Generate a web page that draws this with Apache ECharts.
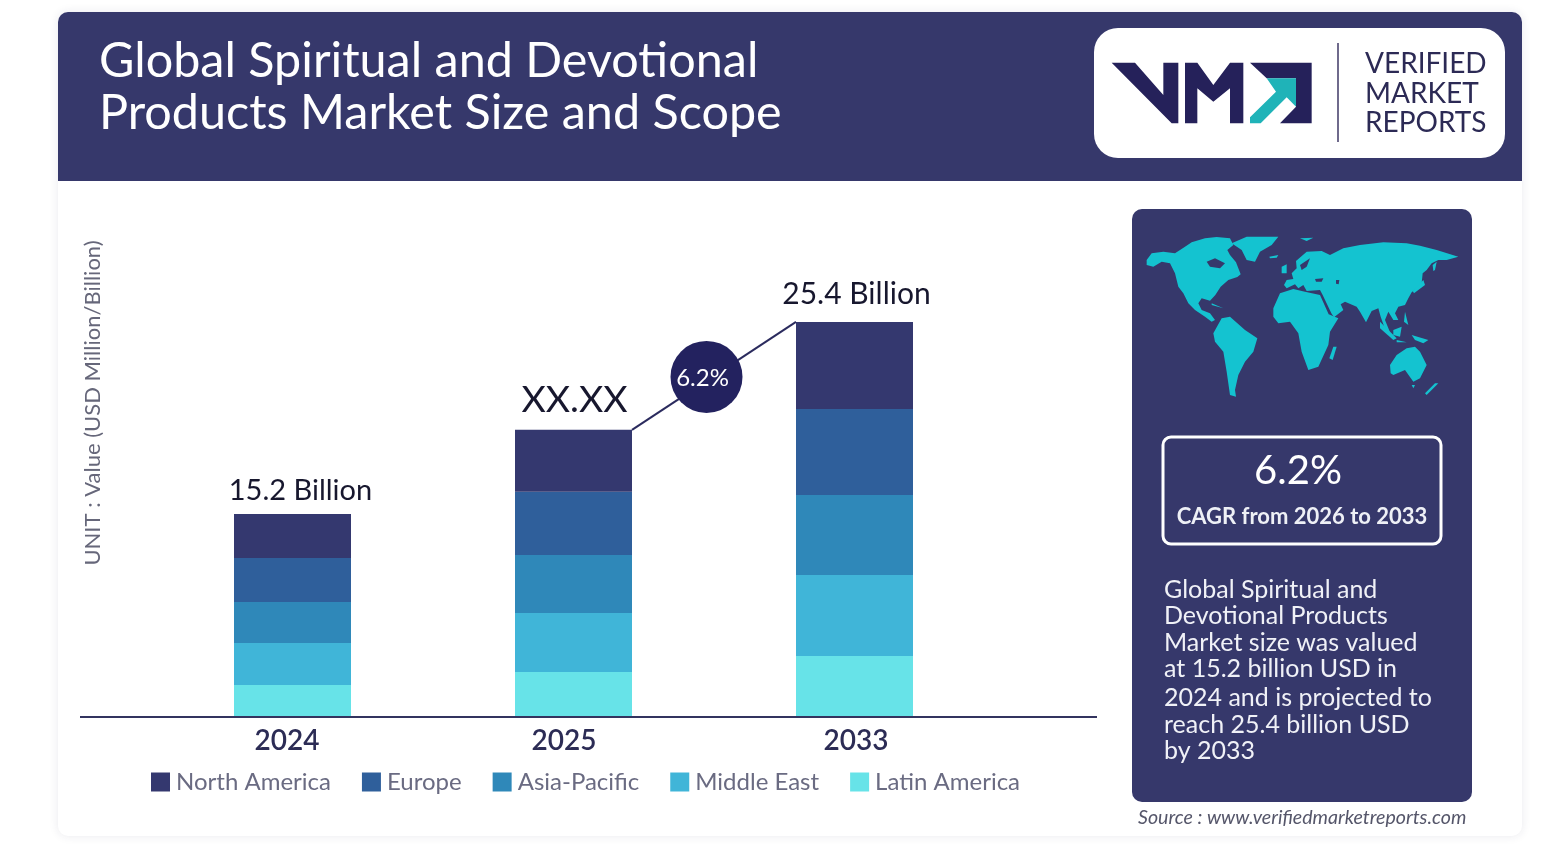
<!DOCTYPE html>
<html><head><meta charset="utf-8">
<style>html,body{margin:0;padding:0;background:#fff}#c{width:1549px;height:845px}</style>
<script src="https://cdn.jsdelivr.net/npm/echarts@6/dist/echarts.min.js"></script>
</head><body><div id="c"></div>
<script>
// Data. The reference bars are not drawn to scale with their captions,
// so segment sizes are the drawn proportions, with 2024 normalised to its 15.2 caption.
const categories = ['2024', '2025', '2033'];
const latinAmerica = [2.40, 3.37, 4.57];
const middleEast   = [3.14, 4.42, 6.06];
const asiaPacific  = [3.07, 4.34, 5.99];
const europe       = [3.29, 4.72, 6.44];
const northAmerica = [3.29, 4.64, 6.51];
const totalLabels = ['15.2 Billion', 'XX.XX', '25.4 Billion'];
const cagrLabel = '6.2%';
const legendOrder = ['North America', 'Europe', 'Asia-Pacific', 'Middle East', 'Latin America'];
const paragraph = ['Global Spiritual and', 'Devotional Products', 'Market size was valued', 'at 15.2 billion USD in', '2024 and is projected to', 'reach 25.4 billion USD', 'by 2033'];

const FONT = 'Lato, "Open Sans", sans-serif';
const NAVY = '#36386b', TEAL = '#14c3d0', BARW = 117;
const colors = {'North America':'#34386f','Europe':'#2f5f9b','Asia-Pacific':'#2f88b9','Middle East':'#40b5d8','Latin America':'#67e3e8'};
const totals = categories.map((_, i) => latinAmerica[i] + middleEast[i] + asiaPacific[i] + europe[i] + northAmerica[i]);

// artwork traced in 3x crop coordinates
const mapLand = [
 [[50,165],[65,145],[100,140],[135,145],[165,125],[185,112],[225,100],[260,96],[300,100],[310,120],[292,135],[300,150],[318,172],[332,208],[322,216],[295,225],[272,245],[256,270],[240,287],[215,280],[205,295],[215,315],[240,325],[255,345],[245,350],[225,335],[195,315],[175,295],[160,265],[145,245],[135,205],[120,175],[95,170],[70,185],[50,180]],
 [[305,115],[350,95],[445,95],[425,120],[390,140],[375,170],[350,165],[335,135]],
 [[250,385],[275,340],[300,335],[345,375],[382,400],[370,440],[345,470],[325,510],[315,555],[318,575],[300,570],[290,500],[280,440],[255,410]],
 [[430,310],[450,265],[490,252],[525,260],[570,270],[596,328],[625,340],[600,380],[595,420],[565,485],[535,495],[515,440],[505,385],[480,350],[445,355],[430,335]],
 [[610,425],[620,425],[608,465],[598,460]],
 [[462,240],[470,225],[490,222],[485,205],[500,190],[498,168],[530,140],[575,138],[600,150],[640,130],[690,120],[760,112],[830,115],[870,122],[920,135],[985,155],[950,165],[925,165],[905,175],[890,195],[878,205],[875,235],[860,250],[845,262],[835,280],[825,300],[805,305],[795,325],[805,345],[790,345],[775,320],[765,345],[780,382],[765,372],[752,335],[745,310],[725,318],[708,352],[690,320],[680,305],[645,290],[632,298],[640,315],[612,337],[604,325],[578,270],[570,255],[530,258],[520,240],[505,250],[495,238],[470,250]],
 [[455,185],[470,178],[470,205],[455,205]],
 [[418,155],[445,150],[440,158],[420,160]],
 [[750,350],[800,400],[790,405],[750,370]],
 [[790,375],[815,365],[810,395],[790,390]],
 [[800,405],[830,412],[800,412]],
 [[845,390],[895,405],[880,415],[855,405]],
 [[825,320],[835,360],[822,350]],
 [[880,225],[885,240],[852,265],[848,258]],
 [[780,480],[800,450],[830,430],[855,425],[870,440],[890,480],[870,520],[850,530],[825,495],[790,510],[782,505]],
 [[925,535],[890,570],[885,565],[915,535]],
 [[845,540],[855,540],[850,550]],
 [[245,295],[280,310],[245,300]],
 [[908,180],[920,170],[915,195],[910,198]],
 [[510,100],[550,98],[530,108]]
];
const mapWater = [
 [[230,170],[255,160],[285,175],[270,190],[240,185]],
 [[555,222],[580,220],[575,230],[558,230]],
 [[510,180],[540,160],[530,185],[515,195]],
 [[618,225],[628,225],[626,238],[618,236]]
];
const logoDark = [
 [[65,158],[135,158],[220,255],[220,158],[265,158],[265,340],[245,340]],
 [[285,158],[322,158],[370,225],[420,158],[460,158],[460,340],[420,340],[420,235],[370,275],[322,235],[322,340],[285,340]],
 [[480,158],[665,158],[665,340],[570,340],[618,290],[618,205],[530,205]]
];
const logoArrow = [[480,322],[558,245],[530,205],[618,205],[618,290],[590,262],[512,340],[480,340]];

const poly = (points, fill, x, y) => ({type:'polygon', x, y, scaleX:1/3, scaleY:1/3, shape:{points}, style:{fill}});
const txt = (text, x, y, font, fill, extra) => ({type:'text', x, y, style:Object.assign({text, font, fill, textVerticalAlign:'middle'}, extra||{})});

const graphics = [
 {type:'rect', shape:{x:58,y:12,width:1464,height:824,r:10}, style:{fill:'#fff',shadowBlur:10,shadowColor:'rgba(40,40,80,0.10)'}},
 {type:'rect', shape:{x:58,y:12,width:1464,height:169,r:[10,10,0,0]}, style:{fill:NAVY}},
 txt('Global Spiritual and Devotional', 99, 61, '400 48.5px '+FONT, '#fff'),
 txt('Products Market Size and Scope', 99, 113, '400 48.5px '+FONT, '#fff'),
 {type:'rect', shape:{x:1094,y:28,width:411,height:130,r:24}, style:{fill:'#fff'}},
 ...logoDark.map(p => poly(p, '#25215a', 1090, 10)),
 poly(logoArrow, '#1fb3b8', 1090, 10),
 {type:'rect', shape:{x:1337,y:43,width:2,height:99}, style:{fill:'#6f6a8c'}},
 txt('VERIFIED', 1365, 64, '400 28px '+FONT, '#2c2a55'),
 txt('MARKET', 1365, 94, '400 28px '+FONT, '#2c2a55'),
 txt('REPORTS', 1365, 123, '400 28px '+FONT, '#2c2a55'),
 {type:'rect', shape:{x:1132,y:209,width:340,height:593,r:10}, style:{fill:NAVY}},
 ...mapLand.map(p => poly(p, TEAL, 1130, 205)),
 ...mapWater.map(p => poly(p, NAVY, 1130, 205)),
 {type:'rect', shape:{x:1163,y:437,width:278,height:107,r:8}, style:{fill:'none',stroke:'#fff',lineWidth:3}},
 txt(cagrLabel, 1298, 471, '400 40px '+FONT, '#fff', {textAlign:'center'}),
 txt('CAGR from 2026 to 2033', 1302, 517, '700 22px '+FONT, '#eef0f6', {textAlign:'center'}),
 ...paragraph.map((s, i) => txt(s, 1164, [590,616,643,669,698,725,751][i], '400 25px '+FONT, '#f0f1f7')),
 txt('Source : www.verifiedmarketreports.com', 1138, 818, 'italic 400 19.6px '+FONT, '#55566a'),
 {type:'rect', z:3, shape:{x:80,y:716,width:1017,height:2}, style:{fill:'#33345f'}}
];

const stackNames = ['Latin America','Middle East','Asia-Pacific','Europe','North America'];
const stackData = [latinAmerica, middleEast, asiaPacific, europe, northAmerica];
const labelOffset = [[8,-4],[1,-6],[2,-8]];
const labelSize = [29, 37.5, 30];
const series = stackNames.map((name, s) => ({
  name, type:'bar', stack:'total', barWidth:BARW,
  itemStyle:{color:colors[name]},
  data: stackData[s].map((v, i) => name !== 'North America' ? v : ({
    value:v,
    label:{show:true, position:'top', formatter:totalLabels[i], offset:labelOffset[i],
      fontFamily:FONT, color:'#17172e', fontSize:labelSize[i]}
  }))
}));
series.push({
  type:'custom', name:'growth', silent:true, z:5,
  encode:{x:0, y:1},
  data:[[1, totals[1], 2, totals[2]]],
  renderItem(params, api){
    const a = api.coord([api.value(0), api.value(1)]);
    const b = api.coord([api.value(2), api.value(3)]);
    const x1 = a[0] + BARW/2, x2 = b[0] - BARW/2;
    const cx = (x1+x2)/2 - 7.5, cy = (a[1]+b[1])/2 + 1;
    return {type:'group', children:[
      {type:'line', shape:{x1, y1:a[1], x2, y2:b[1]}, style:{stroke:'#2b2b5e', lineWidth:2}},
      {type:'circle', shape:{cx, cy, r:36}, style:{fill:'#23225f'}},
      {type:'text', x:cx-4, y:cy+1, style:{text:cagrLabel, font:'400 24px '+FONT, fill:'#fff', textAlign:'center', textVerticalAlign:'middle'}}
    ]};
  }
});

const chart = echarts.init(document.getElementById('c'), null, {renderer:'canvas'});
chart.setOption({
  animation:false,
  backgroundColor:'#fff',
  graphic:{elements:graphics},
  grid:{left:152, width:843, top:89, height:628, containLabel:false},
  legend:{data:legendOrder, left:146, top:765, itemWidth:19, itemHeight:19, itemGap:31, icon:'rect',
    textStyle:{fontFamily:FONT, fontSize:24, color:'#6a6b82', padding:[0,0,0,1]}},
  xAxis:{type:'category', data:categories,
    axisLine:{show:false}, axisTick:{show:false},
    axisLabel:{margin:10, fontFamily:FONT, fontSize:28, fontWeight:600, color:'#2c2c55',
      formatter:(v, i) => '{p'+i+'|'+v+'}',
      rich:{p0:{padding:[0,11,0,0]}, p1:{padding:[0,19,0,0]}, p2:{padding:[0,0,0,3]}}}},
  yAxis:{type:'value', min:0, max:47, name:'UNIT : Value (USD Million/Billion)', nameLocation:'middle', nameGap:48,
    nameRotate:90, nameTextStyle:{fontFamily:FONT, fontSize:22, color:'#66677a'},
    axisLine:{show:false}, axisTick:{show:false}, axisLabel:{show:false}, splitLine:{show:false}},
  series
});
</script></body></html>
